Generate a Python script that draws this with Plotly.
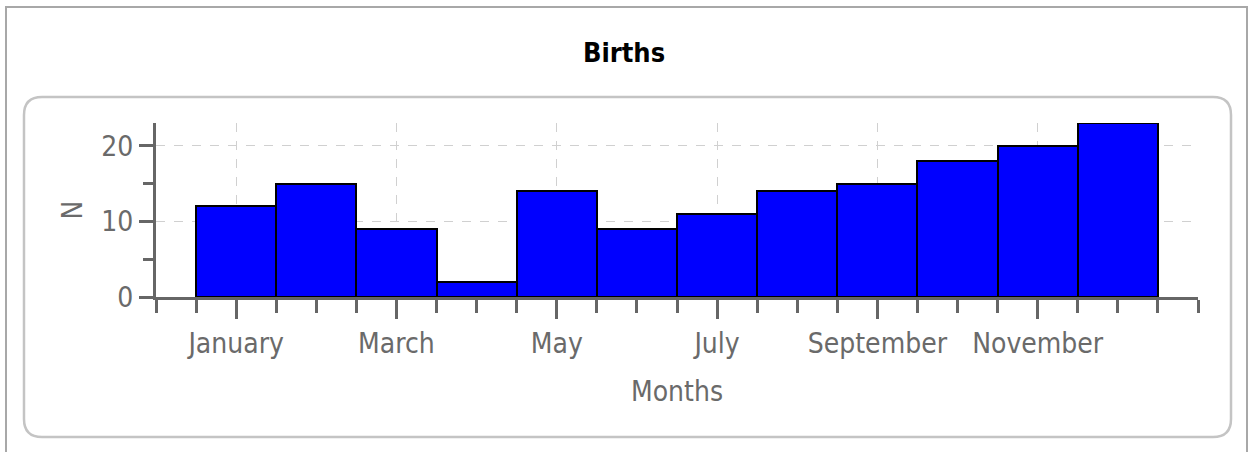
import plotly.graph_objects as go

months = ["January", "February", "March", "April", "May", "June", "July",
          "August", "September", "October", "November", "December"]
births = [12, 15, 9, 2, 14, 9, 11, 14, 15, 18, 20, 23]
y_ticks = [0, 10, 20]

W, H = 1248, 452
PL, PR, PT, PB = 156, 1198, 123, 297  # plot area pixels

def px(x):
    return (x - PL) / (PR - PL)

def py(y):
    return (PB - y) / (PB - PT)

def rounded_path(x0, y0, x1, y1, r):
    pts = [
        ("M", [(x0 + r, y0)]),
        ("L", [(x1 - r, y0)]),
        ("Q", [(x1, y0), (x1, y0 + r)]),
        ("L", [(x1, y1 - r)]),
        ("Q", [(x1, y1), (x1 - r, y1)]),
        ("L", [(x0 + r, y1)]),
        ("Q", [(x0, y1), (x0, y1 - r)]),
        ("L", [(x0, y0 + r)]),
        ("Q", [(x0, y0), (x0 + r, y0)]),
    ]
    s = ""
    for cmd, ps in pts:
        s += cmd + " " + " ".join(f"{px(a):.5f},{py(b):.5f}" for a, b in ps) + " "
    return s + "Z"

idx = list(range(len(months)))

fig = go.Figure(go.Bar(
    x=idx, y=births,
    width=1.0,
    marker=dict(color="#0000FF", line=dict(color="#000000", width=2)),
    hoverinfo="skip",
))

font_tick = "DejaVu Sans Condensed, Liberation Sans, sans-serif"

fig.update_layout(
    width=W, height=H,
    margin=dict(l=PL, r=W - PR, t=PT, b=H - PB),
    paper_bgcolor="white", plot_bgcolor="white",
    showlegend=False,
    bargap=0,
    title=dict(text="<b>Births</b>", x=0.5, xref="container", xanchor="center",
               y=1 - 53 / H, yref="container", yanchor="middle",
               font=dict(family="Liberation Sans Narrow, DejaVu Sans Condensed, sans-serif",
                         size=27, color="#000000")),
    xaxis=dict(
        range=[-1, 12],
        tickmode="array",
        tickvals=idx[::2],
        ticktext=months[::2],
        ticks="outside", ticklen=19, tickwidth=3, tickcolor="#666666",
        showline=True, linecolor="#666666", linewidth=3,
        showgrid=True, gridcolor="#d0d0d0", griddash="dash", gridwidth=1,
        zeroline=False,
        tickfont=dict(family=font_tick, size=28, color="#6a6a6a"),
        title=dict(text="Months", standoff=23,
                   font=dict(family=font_tick, size=28, color="#6a6a6a")),
        minor=dict(tickmode="linear", tick0=0, dtick=0.5, ticks="outside",
                   ticklen=13, tickwidth=3, tickcolor="#666666", showgrid=False),
    ),
    yaxis=dict(
        range=[0, 23],
        tickmode="array", tickvals=y_ticks,
        ticks="outside", ticklen=14, tickwidth=3, tickcolor="#666666",
        showline=True, linecolor="#666666", linewidth=3,
        showgrid=True, gridcolor="#d0d0d0", griddash="dash", gridwidth=1,
        zeroline=False,
        tickfont=dict(family=font_tick, size=28, color="#6a6a6a"),
        title=dict(text="N", standoff=11,
                   font=dict(family=font_tick, size=28, color="#6a6a6a")),
        minor=dict(tickmode="linear", tick0=0, dtick=5, ticks="outside",
                   ticklen=10, tickwidth=3, tickcolor="#666666", showgrid=False),
    ),
    shapes=[
        dict(type="path", xref="paper", yref="paper", layer="below",
             path=rounded_path(24, 97, 1231, 437, 18),
             line=dict(color="#c4c4c4", width=2.5), fillcolor="rgba(0,0,0,0)"),
        dict(type="rect", xref="paper", yref="paper", layer="below",
             x0=px(6), x1=px(1247), y0=py(460), y1=py(7),
             line=dict(color="#a8a8a8", width=2), fillcolor="rgba(0,0,0,0)"),
    ],
)

fig.write_html("out.html",
               config={"displayModeBar": False},
               post_script="document.body.style.margin='0';document.body.style.overflow='hidden';")
